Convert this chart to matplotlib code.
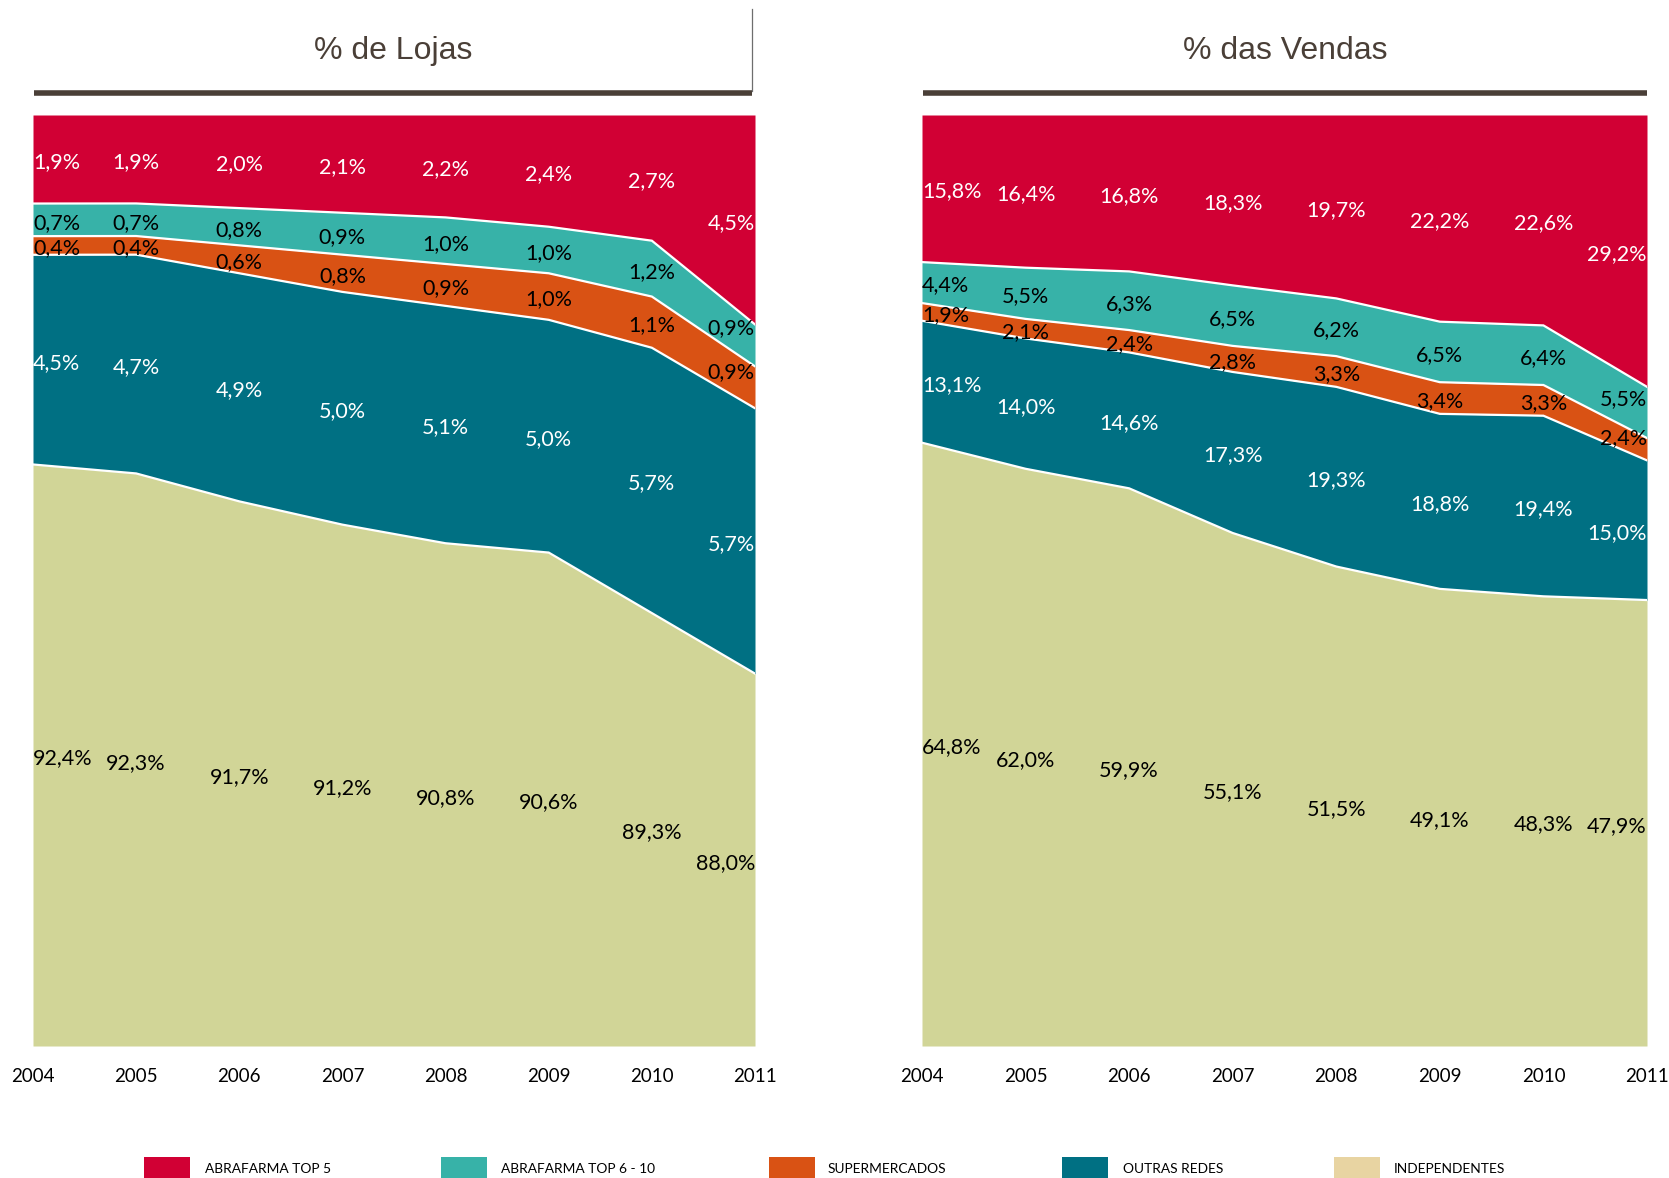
import numpy as np
import matplotlib
matplotlib.use("Agg")
import matplotlib.pyplot as plt
import matplotlib.transforms as mtransforms
from matplotlib.lines import Line2D
from matplotlib.patches import Rectangle

anos = [2004, 2005, 2006, 2007, 2008, 2009, 2010, 2011]
series = ["ABRAFARMA TOP 5", "ABRAFARMA TOP 6 - 10", "SUPERMERCADOS", "OUTRAS REDES", "INDEPENDENTES"]

# % de Lojas
lojas_top5 = [1.9, 1.9, 2.0, 2.1, 2.2, 2.4, 2.7, 4.5]
lojas_top610 = [0.7, 0.7, 0.8, 0.9, 1.0, 1.0, 1.2, 0.9]
lojas_super = [0.4, 0.4, 0.6, 0.8, 0.9, 1.0, 1.1, 0.9]
lojas_outras = [4.5, 4.7, 4.9, 5.0, 5.1, 5.0, 5.7, 5.7]
lojas_indep = [92.4, 92.3, 91.7, 91.2, 90.8, 90.6, 89.3, 88.0]

# % das Vendas
vendas_top5 = [15.8, 16.4, 16.8, 18.3, 19.7, 22.2, 22.6, 29.2]
vendas_top610 = [4.4, 5.5, 6.3, 6.5, 6.2, 6.5, 6.4, 5.5]
vendas_super = [1.9, 2.1, 2.4, 2.8, 3.3, 3.4, 3.3, 2.4]
vendas_outras = [13.1, 14.0, 14.6, 17.3, 19.3, 18.8, 19.4, 15.0]
vendas_indep = [64.8, 62.0, 59.9, 55.1, 51.5, 49.1, 48.3, 47.9]

cores = ["#D10034", "#37B2A8", "#D95214", "#007083", "#D1D597"]
cor_legenda = ["#D10034", "#37B2A8", "#D95214", "#007083", "#E8D4A2"]
cor_texto = ["white", "black", "black", "white", "black"]

W, H = 1669, 1178
fig = plt.figure(figsize=(W / 100, H / 100), dpi=100)

# rotulos de 2011 nas faixas finas - ajustados depois de desenhar
pontas = []


def px(x0, y0, x1, y1):
    # caixa em pixels -> fracao da figura [left, bottom, width, height]
    return [x0 / W, 1 - y1 / H, (x1 - x0) / W, (y1 - y0) / H]


def fmt(v):
    return ("%.1f%%" % v).replace(".", ",")


def desenha(ax, valores, ymin):
    # de baixo para cima: independentes, outras, super, top6-10, top5
    camadas = [np.array(v, dtype=float) for v in valores[::-1]]
    total = sum(camadas)
    camadas = [c / total * 100 for c in camadas]
    cor_c = cores[::-1]
    txt_c = cor_texto[::-1]
    x = np.array(anos, dtype=float)
    base = np.zeros(len(x))
    desloc = mtransforms.offset_copy(ax.transData, fig=fig, x=0, y=-3, units="dots")
    for i, c in enumerate(camadas):
        topo = base + c
        lo = np.maximum(base, ymin)
        ax.fill_between(x, lo, topo, color=cor_c[i], lw=0)
        if i < len(camadas) - 1:
            ax.plot(x, topo, color="white", lw=1.6, solid_joinstyle="miter")
        orig = valores[::-1][i]
        for j, a in enumerate(x):
            meio = (lo[j] + topo[j]) / 2
            ha = "center"
            if j == 0:
                ha = "left"
            elif j == len(x) - 1:
                ha = "right"
            t = ax.text(a, meio, fmt(orig[j]), ha=ha, va="center",
                        transform=ax.transData if (ha == "right" and i in (2, 3)) else desloc,
                        color=txt_c[i], fontsize=15.5, family="Lato")
            if ha == "right" and i in (2, 3):
                pontas.append((ax, t, x, lo.copy(), topo.copy()))
        base = topo
    ax.set_xlim(anos[0], anos[-1])
    ax.set_ylim(ymin, 100)
    ax.set_xticks(anos)
    ax.set_xticklabels([str(a) for a in anos], fontsize=13.5, family="Lato")
    ax.tick_params(axis="x", length=0, pad=16)
    ax.set_yticks([])
    for s in ax.spines.values():
        s.set_visible(False)


ax1 = fig.add_axes(px(33, 115, 755, 1046))
desenha(ax1, [lojas_top5, lojas_top610, lojas_super, lojas_outras, lojas_indep], 80)

ax2 = fig.add_axes(px(922, 115, 1647, 1046))
desenha(ax2, [vendas_top5, vendas_top610, vendas_super, vendas_outras, vendas_indep], 0)

# titulos e linhas
marrom = "#4A3F37"
fig.text(393 / W, 1 - 51 / H, "% de Lojas", ha="center", va="center",
         fontsize=23, color=marrom, family="Liberation Sans")
fig.text(1285 / W, 1 - 51 / H, "% das Vendas", ha="center", va="center",
         fontsize=23, color=marrom, family="Liberation Sans")
fig.add_artist(Line2D([34 / W, 752 / W], [1 - 93 / H] * 2, color=marrom, lw=4, solid_capstyle="butt"))
fig.add_artist(Line2D([923 / W, 1647 / W], [1 - 93 / H] * 2, color=marrom, lw=4, solid_capstyle="butt"))
fig.add_artist(Line2D([752 / W, 752 / W], [1 - 9 / H, 1 - 91 / H], color="#6E6E6E", lw=0.9))

# legenda
px_patch = [144, 441, 769, 1062, 1334]
px_txt = [205, 501, 828, 1123, 1394]
for i, nome in enumerate(series):
    fig.add_artist(Rectangle((px_patch[i] / W, 0), 46 / W, 21 / H,
                             color=cor_legenda[i], lw=0, transform=fig.transFigure))
    fig.text(px_txt[i] / W, 1 - 1169 / H, nome, ha="left", va="center",
             fontsize=9.9, family="Lato", color="black")

# faixas finas em 2011: o meio da faixa e tomado no centro do texto
fig.canvas.draw()
r = fig.canvas.get_renderer()
for ax, t, x, lo, topo in pontas:
    bb = t.get_window_extent(r)
    xc = ax.transData.inverted().transform(((bb.x0 + bb.x1) / 2, 0))[0]
    meio = (np.interp(xc, x, lo) + np.interp(xc, x, topo)) / 2
    t.set_y(meio)

fig.savefig("out.png", dpi=100)
